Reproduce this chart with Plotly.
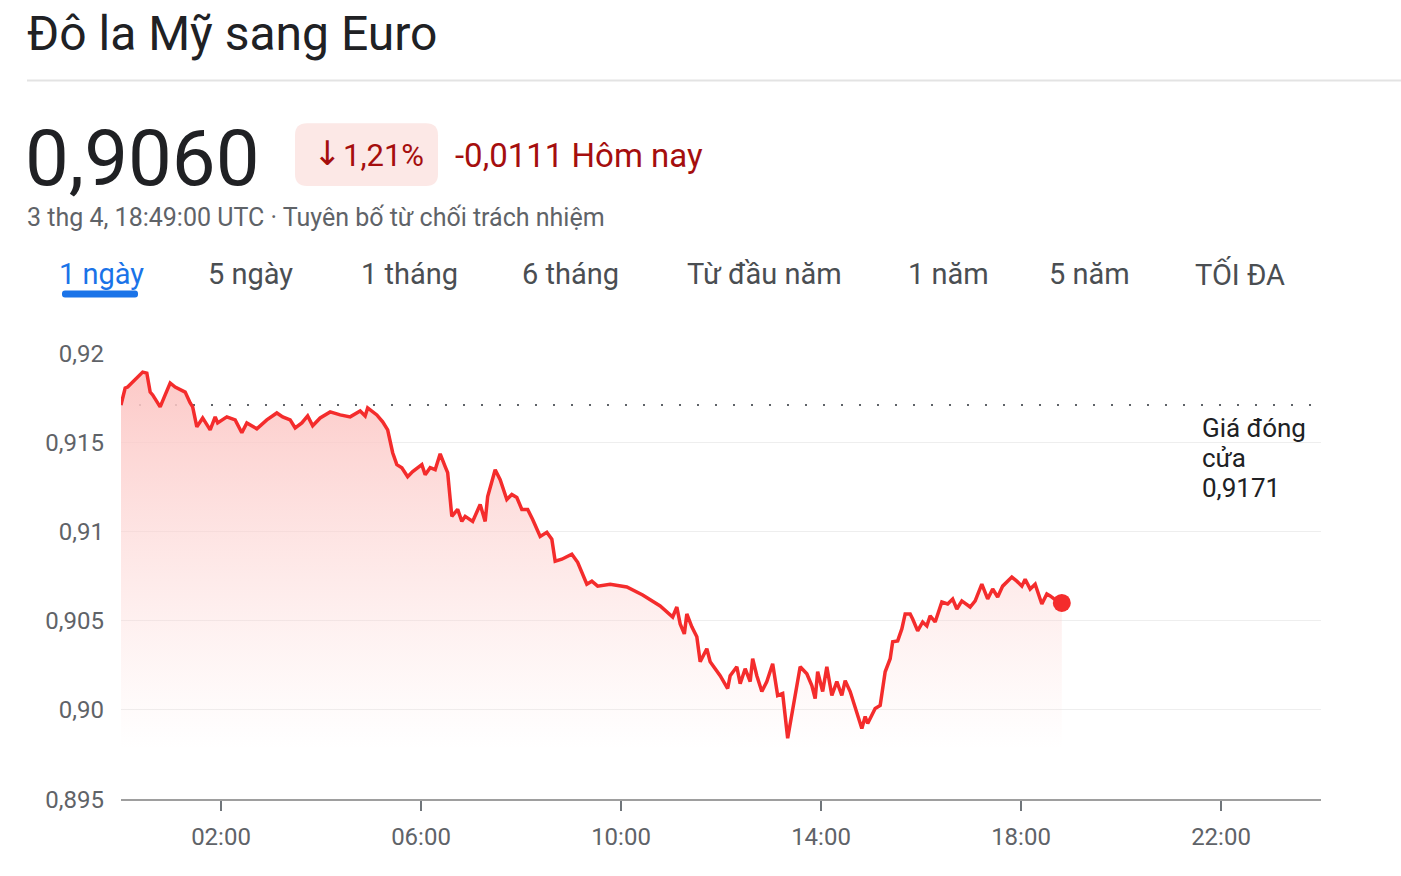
import plotly.graph_objects as go
import pandas as pd

W, H = 1401, 876
# the rendered page maps figure rows slightly compressed; compensate
OFF, HEFF = 12.2, 852.0


def px(x):
    return x / W


def py(y):
    return 1 - (y - OFF) / HEFF


# ---- data ----
minutes = [
    0, 5, 8, 13, 19, 26, 31, 35, 38, 47,
    53, 59, 65, 71, 77, 83, 86, 91, 98, 107,
    113, 116, 127, 137, 145, 151, 163, 175, 187, 194,
    203, 209, 217, 224, 230, 239, 251, 263, 275, 287,
    293, 296, 307, 314, 320, 326, 331, 337, 344, 350,
    361, 365, 371, 377, 383, 389, 392, 397, 404, 409,
    413, 422, 427, 431, 437, 440, 449, 455, 463, 469,
    475, 481, 488, 494, 503, 511, 517, 521, 529, 541,
    548, 559, 565, 572, 587, 607, 626, 647, 662, 667,
    671, 676, 679, 685, 691, 695, 703, 707, 719, 728,
    731, 739, 743, 749, 755, 758, 763, 769, 775, 782,
    788, 794, 800, 806, 815, 823, 829, 833, 836, 842,
    847, 853, 859, 865, 869, 875, 881, 889, 893, 896,
    905, 911, 917, 923, 926, 932, 937, 941, 947, 950,
    956, 962, 967, 971, 977, 985, 992, 998, 1003, 1009,
    1019, 1025, 1033, 1040, 1046, 1052, 1058, 1069, 1075, 1081,
    1085, 1091, 1097, 1105, 1111, 1115, 1123, 1129,
]
rates = [
    0.9171, 0.91805, 0.9181, 0.91833, 0.91866, 0.91894, 0.91888, 0.91782, 0.91766, 0.91699,
    0.91766, 0.91833, 0.9181, 0.91794, 0.91782, 0.91721, 0.91699, 0.91587, 0.91637, 0.9157,
    0.91643, 0.91609, 0.91643, 0.91626, 0.91554, 0.91609, 0.91576, 0.91626, 0.91665, 0.91643,
    0.91626, 0.91581, 0.91609, 0.91648, 0.91593, 0.91637, 0.91671, 0.91654, 0.91643, 0.91676,
    0.91648, 0.91693, 0.91654, 0.91615, 0.9157, 0.91442, 0.91375, 0.91358, 0.91308, 0.91336,
    0.91375, 0.91319, 0.91358, 0.91347, 0.91436, 0.91364, 0.9133, 0.91085, 0.91124, 0.91057,
    0.91085, 0.91057, 0.91107, 0.91152, 0.91057, 0.91196, 0.91347, 0.91291, 0.9118, 0.91208,
    0.91191, 0.91124, 0.91124, 0.91068, 0.90973, 0.90996, 0.90957, 0.90834, 0.90845, 0.90873,
    0.90828, 0.90705, 0.90722, 0.90694, 0.90705, 0.90689, 0.90644, 0.90583, 0.90521, 0.90577,
    0.90482, 0.90426, 0.90538, 0.90466, 0.9041, 0.9027, 0.90343, 0.9027, 0.90192, 0.9012,
    0.90192, 0.90242, 0.90147, 0.90231, 0.90159, 0.90287, 0.90192, 0.90103, 0.90159, 0.90259,
    0.90081, 0.90092, 0.89841, 0.90008, 0.90242, 0.90203, 0.90136, 0.90064, 0.90214, 0.90103,
    0.90242, 0.90081, 0.90159, 0.90081, 0.90164, 0.90103, 0.90008, 0.89896, 0.89963, 0.89924,
    0.90008, 0.90025, 0.90214, 0.90287, 0.90382, 0.90387, 0.90454, 0.90538, 0.90538, 0.9051,
    0.90443, 0.90493, 0.90471, 0.90527, 0.90493, 0.90605, 0.90594, 0.90622, 0.90566, 0.90611,
    0.90577, 0.90611, 0.90705, 0.90622, 0.90678, 0.90633, 0.90694, 0.90745, 0.90722, 0.90694,
    0.90733, 0.90678, 0.90705, 0.90594, 0.9065, 0.90639, 0.90611, 0.9060,
]
prev_close = 0.9171
y_tickvals = [0.895, 0.90, 0.905, 0.91, 0.915, 0.92]
y_ticktext = ["0,895", "0,90", "0,905", "0,91", "0,915", "0,92"]
x_tick_hours = [2, 6, 10, 14, 18, 22]
x_ticktext = ["02:00", "06:00", "10:00", "14:00", "18:00", "22:00"]
tabs = ["1 ngày", "5 ngày", "1 tháng", "6 tháng", "Từ đầu năm", "1 năm", "5 năm", "TỐI ĐA"]
tab_x = [58, 207, 360, 521, 686, 907, 1048, 1194]

title_text = "Đô la Mỹ sang Euro"
price_text = "0,9060"
arrow_text = "↓"
pct_text = "1,21%"
change_text = "-0,0111 Hôm nay"
date_text = "3 thg 4, 18:49:00 UTC · Tuyên bố từ chối trách nhiệm"
close_lines = ["Giá đóng", "cửa", "0,9171"]

# ---- figure ----
base = pd.Timestamp("2025-04-03 00:00")
times = [base + pd.Timedelta(minutes=m) for m in minutes]
x_ticks = [base + pd.Timedelta(hours=h) for h in x_tick_hours]

RED = "#f42c2c"
DARKRED = "#a50e0e"
FONT = "Roboto"

fig = go.Figure()
fig.add_trace(go.Scatter(
    x=times, y=rates, mode="lines", line=dict(width=0, color=RED),
    fill="tozeroy",
    fillgradient=dict(type="vertical",
                      colorscale=[[0, "rgba(253,215,213,0)"], [1, "rgba(252,198,196,0.95)"]],
                      start=0.8985, stop=0.9190),
    hoverinfo="skip", showlegend=False,
))
fig.add_trace(go.Scatter(
    x=times, y=rates, mode="lines", line=dict(width=3.5, color=RED),
    showlegend=False,
))
fig.add_trace(go.Scatter(
    x=[times[-1]], y=[rates[-1]], mode="markers",
    marker=dict(size=18, color=RED), showlegend=False,
))

# previous close dotted line
fig.add_shape(type="line", xref="x", yref="y",
              x0=base, x1=base + pd.Timedelta(hours=24), y0=prev_close, y1=prev_close,
              line=dict(color="#5f6368", width=2, dash="2px,16px"), layer="below")

# header separator
fig.add_shape(type="line", xref="paper", yref="paper", x0=px(27), x1=px(1401),
              y0=py(79), y1=py(79), line=dict(color="#e3e3e3", width=2))


def rounded_rect(x0, y0, x1, y1, r):
    rx, ry = r / W, r / HEFF
    X0, X1 = px(x0), px(x1)
    Y0, Y1 = py(y1), py(y0)  # bottom, top in paper
    return (f"M {X0+rx},{Y0} L {X1-rx},{Y0} Q {X1},{Y0} {X1},{Y0+ry} "
            f"L {X1},{Y1-ry} Q {X1},{Y1} {X1-rx},{Y1} L {X0+rx},{Y1} "
            f"Q {X0},{Y1} {X0},{Y1-ry} L {X0},{Y0+ry} Q {X0},{Y0} {X0+rx},{Y0} Z")


fig.add_shape(type="path", xref="paper", yref="paper",
              path=rounded_rect(295, 122, 438, 185, 12),
              fillcolor="#fce8e6", line=dict(width=0))
fig.add_shape(type="path", xref="paper", yref="paper",
              path=rounded_rect(62, 290, 138, 297, 3),
              fillcolor="#1a73e8", line=dict(width=0))

ann = []
ann.append(dict(text=title_text, x=px(25), y=py(32), font=dict(size=48, color="#202124")))
ann.append(dict(text=price_text, x=px(23), y=py(157), font=dict(size=78, color="#202124")))
ann.append(dict(text=arrow_text, x=px(327), y=py(152), xanchor="center",
                font=dict(size=34, color=DARKRED, family="DejaVu Sans")))
ann.append(dict(text=pct_text, x=px(341), y=py(154),
                font=dict(size=31, color=DARKRED)))
ann.append(dict(text=change_text, x=px(453), y=py(154), font=dict(size=33, color=DARKRED)))
ann.append(dict(text=date_text, x=px(25), y=py(217), font=dict(size=25, color="#5f6368")))
for t, tx in zip(tabs, tab_x):
    ann.append(dict(text=t, x=px(tx - 1), y=py(273),
                    font=dict(size=29, color="#1a73e8" if t == tabs[0] else "#4a4e52")))
for line_text, ly in zip(close_lines, [428, 458, 488]):
    ann.append(dict(text=line_text, x=px(1200), y=py(ly),
                    font=dict(size=26, color="#202124")))
for a in ann:
    a.setdefault("xanchor", "left")
    a.update(xref="paper", yref="paper", yanchor="middle", showarrow=False)
    a["font"].setdefault("family", FONT)

fig.update_layout(
    width=W, height=H,
    margin=dict(l=0, r=0, t=0, b=0),
    paper_bgcolor="white", plot_bgcolor="white",
    font=dict(family=FONT),
    annotations=ann,
    showlegend=False,
    xaxis=dict(
        domain=[px(121), px(1321)],
        type="date",
        range=[base, base + pd.Timedelta(hours=24)],
        tickvals=x_ticks, ticktext=x_ticktext,
        showgrid=False, zeroline=False,
        showline=True, linecolor="#9e9e9e", linewidth=2,
        ticks="outside", ticklen=10, tickwidth=2, tickcolor="#70757a",
        ticklabelstandoff=5,
        tickfont=dict(size=24, color="#5f6368", family=FONT),
        fixedrange=True,
    ),
    yaxis=dict(
        domain=[py(801), py(353)],
        range=[0.895, 0.92],
        tickvals=y_tickvals, ticktext=y_ticktext,
        showgrid=True, gridcolor="#eeeeee", gridwidth=1,
        zeroline=False, showline=False, ticks="",
        ticklabelstandoff=16,
        tickfont=dict(size=24, color="#5f6368", family=FONT),
        fixedrange=True,
    ),
)

fig.write_html("out.html", post_script="document.body.style.margin='0';",
               config={"displayModeBar": False})
